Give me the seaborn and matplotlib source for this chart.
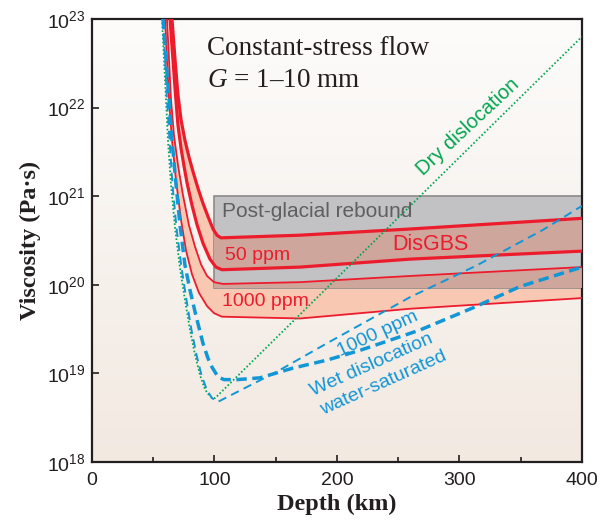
import numpy as np
import matplotlib
matplotlib.use("Agg")
import matplotlib.pyplot as plt
import seaborn as sns
from matplotlib.colors import LinearSegmentedColormap
from matplotlib.patches import Rectangle

# values: depth (km) and log10 viscosity (Pa s)
dry_depth = [57.1, 58.8, 60.4, 62.0, 64.5, 67.8, 71.8, 75.9, 80.0, 84.1, 88.2, 92.2, 96.3, 100.4, 400.0]
dry_log = [23.0, 22.54, 22.09, 21.63, 21.13, 20.64, 20.19, 19.83, 19.49, 19.21, 18.98, 18.82, 18.74, 18.72, 22.80]

wet1000_depth = [58.0, 59.6, 61.2, 63.3, 65.7, 69.0, 73.1, 77.1, 81.2, 85.3, 89.4, 93.9, 98.0, 102.9,
                 151.0, 191.8, 259.6, 314.3, 368.2, 400.0]
wet1000_log = [23.0, 22.54, 22.09, 21.63, 21.13, 20.64, 20.19, 19.83, 19.49, 19.21, 18.98, 18.81, 18.72, 18.68,
               19.02, 19.34, 19.86, 20.22, 20.62, 20.89]

wetsat_depth = [58.0, 60.4, 62.9, 65.3, 68.6, 71.8, 75.9, 80.0, 84.9, 90.6, 94.7, 98.0, 102.9, 107.8, 118.4,
                137.1, 164.1, 191.8, 218.8, 267.8, 311.0, 349.4, 400.0]
wetsat_log = [23.0, 22.54, 22.09, 21.63, 21.13, 20.68, 20.22, 19.94, 19.65, 19.34, 19.17, 19.07, 18.96, 18.93, 18.93,
              18.95, 19.06, 19.15, 19.26, 19.49, 19.74, 19.98, 20.20]

# DisGBS, 50 ppm (upper / lower bound)
gbs50_hi_depth = [65.3, 67.8, 70.2, 72.7, 75.9, 79.2, 82.4, 86.5, 90.6, 94.7, 98.8, 102.0, 105.3, 170.0, 260.0, 400.0]
gbs50_hi_log = [23.0, 22.54, 22.14, 21.86, 21.63, 21.44, 21.28, 21.09, 20.92, 20.77, 20.63, 20.56, 20.53, 20.56, 20.63, 20.75]
gbs50_lo_depth = [63.7, 66.1, 68.2, 70.2, 72.7, 75.1, 77.6, 81.6, 85.7, 90.6, 96.3, 101.2, 106.1, 170.0, 260.0, 400.0]
gbs50_lo_log = [23.0, 22.54, 22.14, 21.80, 21.54, 21.34, 21.15, 20.90, 20.68, 20.47, 20.29, 20.20, 20.17, 20.20, 20.29, 20.38]

# DisGBS, 1000 ppm (upper / lower bound)
gbs1000_hi_depth = [61.2, 62.9, 64.5, 66.9, 70.2, 74.3, 79.2, 84.1, 89.0, 93.9, 99.6, 106.9, 170.0, 260.0, 400.0]
gbs1000_hi_log = [23.0, 22.54, 22.09, 21.69, 21.35, 21.01, 20.67, 20.43, 20.23, 20.10, 20.03, 20.01, 20.03, 20.10, 20.20]
gbs1000_lo_depth = [59.6, 61.2, 62.9, 65.3, 68.6, 72.7, 76.7, 81.6, 87.3, 93.9, 99.6, 106.1, 170.0, 260.0, 400.0]
gbs1000_lo_log = [23.0, 22.54, 22.09, 21.63, 21.18, 20.73, 20.39, 20.12, 19.91, 19.76, 19.68, 19.64, 19.62, 19.73, 19.85]

# post-glacial rebound range
pgr_depth = [100, 400]
pgr_visc = [9.2e19, 1e21]

xticks = [0, 100, 200, 300, 400]
yexp = [18, 19, 20, 21, 22, 23]

red = "#ec1c2d"
blue = "#1196d6"
green = "#00a54f"
salmon = "#f9c8b3"
brown = "#cfa69b"
grey = "#c2c2c5"
ink = "#231f20"

sns.set_theme(style="ticks")
plt.rcParams["font.family"] = ["Liberation Sans", "DejaVu Sans"]
plt.rcParams["mathtext.fontset"] = "custom"
plt.rcParams["mathtext.rm"] = "Liberation Sans"
plt.rcParams["mathtext.it"] = "Liberation Serif:italic"
serif = ["Liberation Serif", "DejaVu Serif"]

fig = plt.figure(figsize=(6.03, 5.2), dpi=100)
pos = [0.1526, 0.1115, 0.8124, 0.852]

# soft vertical gradient behind the plot
bg = fig.add_axes(pos, zorder=0)
grad = np.linspace(0, 1, 256).reshape(-1, 1)
bg.imshow(grad, cmap=LinearSegmentedColormap.from_list("bg", ["#fdfcfb", "#f2e9e1"]),
          aspect="auto", extent=[0, 1, 0, 1], origin="upper")
bg.axis("off")

ax = fig.add_axes(pos, zorder=1)
ax.patch.set_alpha(0)
ax.set_yscale("log")


def curve(depth, logv, **kw):
    sns.lineplot(x=depth, y=10.0 ** np.array(logv), ax=ax, sort=False, estimator=None, **kw)
    return ax.lines[-1]


def band(d_hi, l_hi, d_lo, l_lo, color, z):
    xs = list(d_hi) + list(d_lo)[::-1]
    ys = list(10.0 ** np.array(l_hi)) + list(10.0 ** np.array(l_lo))[::-1]
    return ax.fill(xs, ys, color=color, lw=0, zorder=z)[0]


band(gbs50_hi_depth, gbs50_hi_log, gbs50_lo_depth, gbs50_lo_log, salmon, 1)
band(gbs1000_hi_depth, gbs1000_hi_log, gbs1000_lo_depth, gbs1000_lo_log, salmon, 1)

box = Rectangle((pgr_depth[0], pgr_visc[0]), pgr_depth[1] - pgr_depth[0], pgr_visc[1] - pgr_visc[0],
                facecolor=grey, edgecolor="#8e8a8a", lw=1.2, zorder=2)
ax.add_patch(box)
for p in [band(gbs50_hi_depth, gbs50_hi_log, gbs50_lo_depth, gbs50_lo_log, brown, 3),
          band(gbs1000_hi_depth, gbs1000_hi_log, gbs1000_lo_depth, gbs1000_lo_log, brown, 3)]:
    p.set_clip_path(box)

curve(gbs50_hi_depth, gbs50_hi_log, color=red, lw=2.3, zorder=4)
curve(gbs50_lo_depth, gbs50_lo_log, color=red, lw=2.3, zorder=4)
curve(gbs1000_hi_depth, gbs1000_hi_log, color=red, lw=1.3, zorder=4)
curve(gbs1000_lo_depth, gbs1000_lo_log, color=red, lw=1.3, zorder=4)

ln = curve(dry_depth, dry_log, color=green, lw=1.3, zorder=5)
ln.set_dashes((0.9, 1.2))
ln = curve(wet1000_depth, wet1000_log, color=blue, lw=1.4, zorder=5)
ln.set_dashes((4.4, 2.8))
ln = curve(wetsat_depth, wetsat_log, color=blue, lw=2.5, zorder=5)
ln.set_dashes((3.0, 1.6))

ax.set_xlim(0, 400)
ax.set_ylim(1e18, 1e23)
ax.set_xticks(xticks)
ax.set_xticks([50, 150, 250, 350], minor=True)
ax.set_yticks([10.0 ** e for e in yexp])
ax.set_yticklabels([r"$\mathregular{10^{%d}}$" % e for e in yexp])
ax.yaxis.set_minor_locator(matplotlib.ticker.NullLocator())
ax.tick_params(which="both", direction="in", color=ink, labelcolor=ink, labelsize=14, width=1.2)
ax.tick_params(which="major", length=5)
ax.tick_params(which="minor", length=3.5)
ax.tick_params(axis="x", pad=7)
ax.tick_params(axis="y", pad=5)
for s in ax.spines.values():
    s.set_color(ink)
    s.set_linewidth(1.6)

ax.set_xlabel("Depth (km)", family=serif, weight="bold", fontsize=17.5, color=ink, labelpad=4)
ax.set_ylabel("Viscosity (Pa\u00b7s)", family=serif, weight="bold", fontsize=17.5, color=ink, labelpad=4)

ax.text(94, 10 ** 22.67, "Constant-stress flow", family=serif, fontsize=19.5, color=ink, va="center")
ax.text(94, 10 ** 22.31, "$G$ = 1\u201310 mm", family=serif, fontsize=19.5, color=ink, va="center")

ax.text(106, 10 ** 20.83, "Post-glacial rebound", fontsize=15, color="#5f5f60", va="center", zorder=6)
ax.text(108.5, 10 ** 20.33, "50 ppm", fontsize=14, color=red, va="center", zorder=6)
ax.text(245.5, 10 ** 20.46, "DisGBS", fontsize=15.5, color=red, va="center", zorder=6)
ax.text(106, 10 ** 19.81, "1000 ppm", fontsize=14, color=red, va="center", zorder=6)

ax.text(307, 10 ** 21.78, "Dry dislocation", fontsize=14.5, color=green, rotation=43,
        rotation_mode="anchor", ha="center", va="center", zorder=6)
ax.text(233.5, 10 ** 19.44, "1000 ppm", fontsize=14, color=blue, rotation=25,
        rotation_mode="anchor", ha="center", va="center", zorder=6)
ax.text(228.2, 10 ** 19.09, "Wet dislocation", fontsize=14, color=blue, rotation=24,
        rotation_mode="anchor", ha="center", va="center", zorder=6)
ax.text(238, 10 ** 18.89, "water-saturated", fontsize=14, color=blue, rotation=24,
        rotation_mode="anchor", ha="center", va="center", zorder=6)

fig.savefig("out.png", dpi=100)
